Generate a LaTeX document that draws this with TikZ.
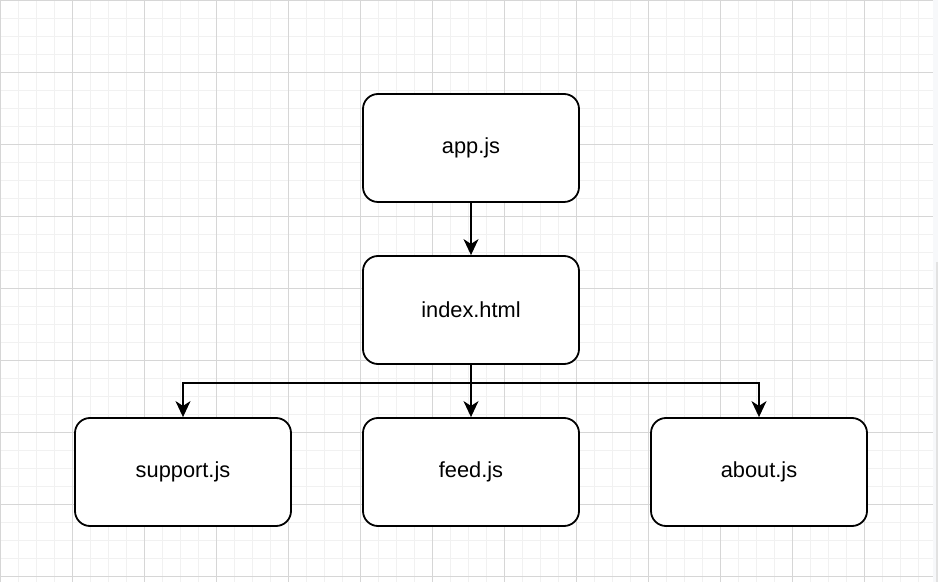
\documentclass[tikz,border=0pt]{standalone}
\usepackage{fontspec}
\setmainfont{Liberation Sans}
\usetikzlibrary{arrows.meta}
\definecolor{gridmajor}{HTML}{D6D6D6}
\definecolor{gridminor}{HTML}{F1F1F1}
\definecolor{paleedge}{HTML}{F7F8FA}
\definecolor{scrollbar}{HTML}{E2E2E2}
\tikzset{
  box/.style={draw=black, line width=0.9pt, rounded corners=7.5pt, fill=white,
    minimum width=108pt, minimum height=54pt, inner sep=0pt,
    font=\fontsize{10.9pt}{12pt}\selectfont},
  arr/.style={draw=black, line width=0.8pt,
    -{Stealth[length=8pt, width=7.5pt, inset=2.4pt]}},
  minorline/.style={draw=gridminor, line width=0.5pt},
  majorline/.style={draw=gridmajor, line width=0.5pt}
}
\begin{document}
\begin{tikzpicture}[x=0.5pt, y=-0.5pt]
\useasboundingbox (0,0) rectangle (938,582);
\fill[white] (0,0) rectangle (938,582);
% grid
\foreach \i in {0,...,51} {
  \draw[minorline] (0.5+18*\i,0) -- (0.5+18*\i,582);
}
\foreach \i in {0,...,32} {
  \draw[minorline] (0,1+18*\i) -- (933,1+18*\i);
}
\foreach \i in {0,...,12} {
  \draw[majorline] (0.5+72*\i,0) -- (0.5+72*\i,582);
}
\foreach \i in {0,...,8} {
  \draw[majorline] (0,1+72*\i) -- (933,1+72*\i);
}
\fill[paleedge] (933,0) rectangle (938,582);
\fill[scrollbar] (936,262) rectangle (938,582);
% nodes
\node[box] (app) at (471,148) {app.js};
\node[box] (index) at (471,310) {index.html};
\node[box] (support) at (183,472) {support.js};
\node[box] (feed) at (471,472) {feed.js};
\node[box] (about) at (759,472) {about.js};
% connectors
\draw[arr] (app.south) -- (index.north);
\draw[arr] (index.south) -- (feed.north);
\draw[arr] (index.south) -- ++(0,18) -| (support.north);
\draw[arr] (index.south) -- ++(0,18) -| (about.north);
\end{tikzpicture}
\end{document}
